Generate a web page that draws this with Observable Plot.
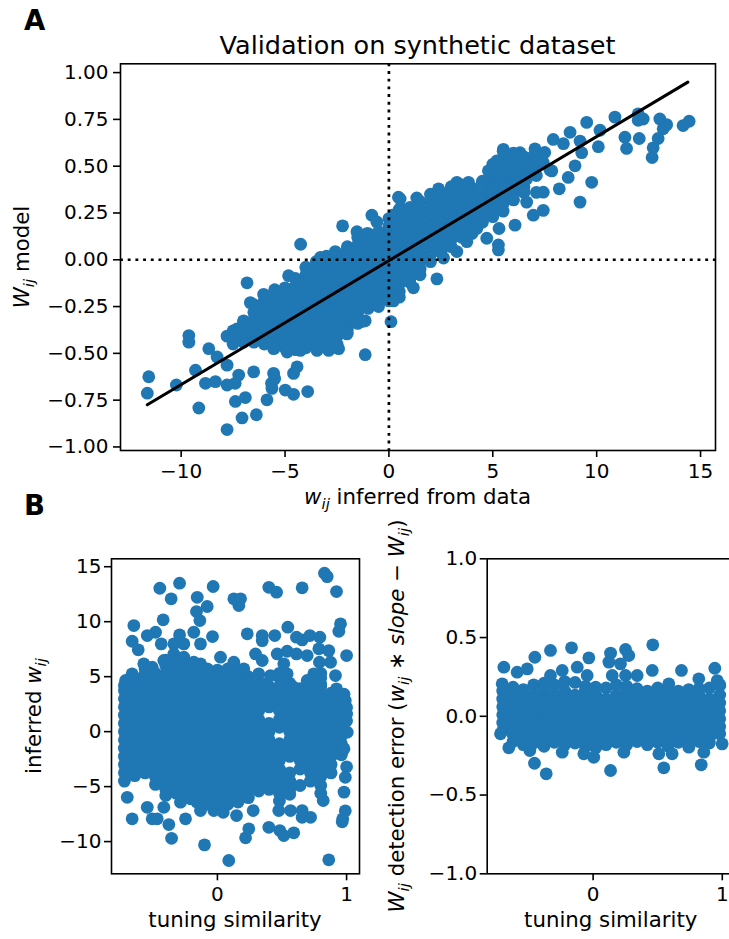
<!DOCTYPE html>
<html><head><meta charset="utf-8">
<script src="https://cdn.jsdelivr.net/npm/d3@7"></script>
<script src="https://cdn.jsdelivr.net/npm/@observablehq/plot@0.6"></script>
<style>
html,body{margin:0;padding:0;background:#fff;overflow:hidden}
#page{position:relative;width:729px;height:939px;overflow:hidden;background:#fff}
</style></head><body><div id="page"></div>
<script>
// ---------- Panel A: w_ij inferred (x) vs W_ij model (y) ----------
const aCore = [
 [-7.5,[-0.38,-0.42,-0.45]],
 [-7,[-0.33,-0.37,-0.41,-0.44]],
 [-6.5,[-0.24,-0.28,-0.32,-0.36,-0.40,-0.44]],
 [-6,[-0.22,-0.26,-0.30,-0.34,-0.38,-0.42,-0.45]],
 [-5.5,[-0.16,-0.20,-0.24,-0.28,-0.32,-0.36,-0.40,-0.44,-0.47]],
 [-5,[-0.15,-0.19,-0.23,-0.27,-0.31,-0.35,-0.39,-0.43,-0.47]],
 [-4.5,[-0.10,-0.14,-0.18,-0.22,-0.26,-0.30,-0.34,-0.38,-0.42,-0.46,-0.48]],
 [-4,[-0.04,-0.08,-0.12,-0.16,-0.20,-0.24,-0.28,-0.32,-0.36,-0.40,-0.44,-0.47]],
 [-3.5,[-0.01,-0.05,-0.09,-0.13,-0.17,-0.21,-0.25,-0.29,-0.33,-0.37,-0.41,-0.45]],
 [-3,[0.02,-0.02,-0.06,-0.10,-0.14,-0.18,-0.22,-0.26,-0.30,-0.34,-0.38,-0.42,-0.45]],
 [-2.5,[0.03,-0.01,-0.05,-0.09,-0.13,-0.17,-0.21,-0.25,-0.29,-0.33,-0.37,-0.41,-0.45]],
 [-2,[0.07,0.03,-0.01,-0.05,-0.09,-0.13,-0.17,-0.21,-0.25,-0.29,-0.33,-0.37,-0.39]],
 [-1.5,[0.12,0.08,0.04,0.00,-0.04,-0.08,-0.12,-0.16,-0.20,-0.24,-0.28,-0.32,-0.34]],
 [-1,[0.14,0.10,0.06,0.02,-0.02,-0.06,-0.10,-0.14,-0.18,-0.22,-0.26]],
 [-0.5,[0.15,0.11,0.07,0.03,-0.01,-0.05,-0.09,-0.13,-0.17,-0.21,-0.25]],
 [0,[0.22,0.18,0.14,0.10,0.06,0.02,-0.02,-0.06,-0.10,-0.14,-0.18,-0.22]],
 [0.5,[0.27,0.23,0.19,0.15,0.11,0.07,0.03,-0.01,-0.05,-0.09,-0.13,-0.17,-0.20]],
 [1,[0.26,0.22,0.18,0.14,0.10,0.06,0.02,-0.02,-0.06,-0.10,-0.12]],
 [1.5,[0.31,0.27,0.23,0.19,0.15,0.11,0.07,0.03,-0.01,-0.05,-0.08]],
 [2,[0.35,0.31,0.27,0.23,0.19,0.15,0.11,0.07,0.03,-0.01]],
 [2.5,[0.36,0.32,0.28,0.24,0.20,0.16,0.12,0.08,0.04]],
 [3,[0.39,0.35,0.31,0.27,0.23,0.19,0.15,0.11,0.07]],
 [3.5,[0.40,0.36,0.32,0.28,0.24,0.20,0.16,0.12]],
 [4,[0.38,0.34,0.30,0.26,0.22,0.18,0.14]],
 [4.5,[0.42,0.38,0.34,0.30,0.26,0.22,0.20]],
 [5,[0.51,0.47,0.43,0.39,0.35,0.31,0.27,0.23]],
 [5.5,[0.58,0.54,0.50,0.46,0.42,0.38,0.34,0.30,0.26]],
 [6,[0.56,0.52,0.48,0.44,0.40,0.36,0.32]],
 [6.5,[0.55,0.51,0.47,0.43,0.39,0.36]],
 [7,[0.56,0.52,0.48]]
];
const aExtra = [
 [-4.25,0.083],[-2.23,0.181],[-0.82,0.238],[-0.58,0.202],[0.46,0.334],[1.42,0.317],[-1.54,0.15],[-3.3,0.012],[-2.9,0.01],[-2.0,0.06],[-1.06,0.14],[0.22,0.24],[0.63,0.27],[1.02,0.28],[-2.58,0.044],
 [10.88,0.762],[12.0,0.78],[12.24,0.752],[12.0,0.745],[13.04,0.752],[13.37,0.722],[13.2,0.70],[14.16,0.717],[14.45,0.74],[9.52,0.734],[10.16,0.692],[11.36,0.655],[12.05,0.648],[11.44,0.595],[12.96,0.648],[12.72,0.598],[12.67,0.546],
 [8.72,0.681],[9.2,0.634],[10.08,0.604],[7.91,0.643],[8.4,0.62],[7.03,0.593],[7.5,0.573],[9.28,0.572],[9.76,0.414],[9.2,0.308],[8.2,0.379],[8.63,0.44],[8.96,0.502],[7.84,0.475],
 [5.51,0.59],[5.19,0.528],[6.31,0.572],[4.87,0.475],[3.27,0.414],[3.83,0.414],[2.39,0.379],[7.43,0.361],[7.43,0.264],[6.95,0.238],[6.07,0.185],[5.27,0.079],[4.71,0.115],[4.23,0.167],[5.3,0.167],[6.63,0.308],[7.1,0.36],
 [5.99,0.569],[5.83,0.50],[6.47,0.52],[6.95,0.50],[7.43,0.52],[5.35,0.449],[6.15,0.414],[6.63,0.432],[7.1,0.45],[7.75,0.48],
 [3.75,0.097],[3.27,0.044],[2.63,0.009],[0.54,0.325],[1.34,0.33],[4.39,0.387],[4.79,0.475],
 [-6.83,-0.123],[-4.83,-0.085],[-6.67,-0.229],[-6.03,-0.185],[-9.63,-0.405],[-9.63,-0.44],[-8.67,-0.475],[-7.79,-0.408],[-6.99,-0.326],[-8.27,-0.519],[-9.31,-0.59],[-7.79,-0.563],
 [-11.56,-0.625],[-11.63,-0.713],[-10.23,-0.669],[-8.83,-0.66],[-8.35,-0.651],[-9.15,-0.792],[-7.79,-0.669],[-7.23,-0.616],[-7.4,-0.66],[-7.39,-0.757],[-6.91,-0.736],[-7.07,-0.845],[-7.79,-0.907],[-6.38,-0.828],
 [-5.87,-0.748],[-5.63,-0.687],[-5.65,-0.66],[-4.99,-0.696],[-4.59,-0.719],[-3.91,-0.704],[-6.51,-0.599],[-5.55,-0.607],[-5.5,-0.635],[-4.59,-0.607],[-4.42,-0.572],
 [-1.14,-0.326],[-1.14,-0.507],[0.1,-0.331],[0.22,-0.22],[1.18,-0.15],[-6.19,-0.405],[-5.55,-0.475],[-4.9,-0.493],[-4.26,-0.484],[-3.46,-0.484],[-2.9,-0.484],[-2.42,-0.475],[-2.02,-0.396],[-1.3,-0.33],
 [-7.31,-0.37],[-6.59,-0.352],[-5.87,-0.44],[2.31,-0.102],[5.27,0.053]
];
const fitLineX = [-11.63, 14.39];
const fitLineY = [-0.775, 0.949];

// ---------- Panel B left: tuning similarity (x) vs inferred w_ij (y) ----------
const bLeftCore = [
 [-0.72,[4.2,3.75,3,2.25,1.5,0.75,0,-0.75,-1.5,-2.25,-3,-3.75,-4.5]],
 [-0.64,[4.9,4.1,3.4,2.6,1.9,1.1,0.4,-0.4,-1.1,-1.9,-2.6,-3.4,-4.0]],
 [-0.56,[5.7,5.25,4.5,3.75,3,2.25,1.5,0.75,0,-0.75,-1.5,-2.25,-3,-3.75]],
 [-0.48,[5.3,4.9,4.1,3.4,2.6,1.9,1.1,0.4,-0.4,-1.1,-1.9,-2.6,-3.4,-4.1,-4.8]],
 [-0.40,[6.5,6,5.25,4.5,3.75,3,2.25,1.5,0.75,0,-0.75,-1.5,-2.25,-3,-3.75,-4.5,-5.25,-5.8]],
 [-0.32,[6.4,5.6,4.9,4.1,3.4,2.6,1.9,1.1,0.4,-0.4,-1.1,-1.9,-2.6,-3.4,-4.1,-4.9,-5.6]],
 [-0.24,[6,5.25,4.5,3.75,3,2.25,1.5,0.75,0,-0.75,-1.5,-2.25,-3,-3.75,-4.5,-5.25,-5.8]],
 [-0.16,[6.0,5.6,4.9,4.1,3.4,2.6,1.9,1.1,0.4,-0.4,-1.1,-1.9,-2.6,-3.4,-4.1,-4.9,-5.6,-6.4]],
 [-0.08,[5.3,4.5,3.75,3,2.25,1.5,0.75,0,-0.75,-1.5,-2.25,-3,-3.75,-4.5,-5.25,-6]],
 [0,[5.6,4.9,4.1,3.4,2.6,1.9,1.1,0.4,-0.4,-1.1,-1.9,-2.6,-3.4,-4.1,-4.9,-5.6,-6.4]],
 [0.08,[5.7,5.25,4.5,3.75,3,2.25,1.5,0.75,0,-0.75,-1.5,-2.25,-3,-3.75,-4.5,-5.25,-6,-6.6]],
 [0.16,[5.4,4.9,4.1,3.4,2.6,1.9,1.1,0.4,-0.4,-1.1,-1.9,-2.6,-3.4,-4.1,-4.9,-5.6,-6.4]],
 [0.24,[5,4.5,3.75,3,2.25,1.5,0.75,0,-0.75,-1.5,-2.25,-3,-3.75,-4.5,-5.25,-6]],
 [0.32,[4.4,4.1,3.4,2.6,1.9,1.1,0.4,-0.4,-1.1,-1.9,-2.6,-3.4,-4.1,-4.9,-5.4]],
 [0.40,[4.1,3.75,3,2.25,0.75,0,-0.75,-1.5,-2.25,-3,-3.75,-4.5,-5.25]],
 [0.48,[5.3,4.9,4.1,3.4,2.6,1.9,1.1,0.4,-1.1,-1.9,-2.6,-3.4,-4.1,-4.9,-5.6,-6.3]],
 [0.56,[4.4,3.75,3,2.25,1.5,0.75,0,-0.75,-1.5,-2.25,-3.75,-4.5,-5.25,-5.7]],
 [0.64,[3.9,3.4,2.6,1.9,1.1,0.4,-0.4,-1.1,-1.9,-2.6,-3.4,-4.9]],
 [0.72,[4.4,3.75,3,2.25,1.5,0.75,0,-0.75,-1.5,-2.25,-3,-3.75,-4.5]],
 [0.80,[5.3,4.9,4.1,3.4,2.6,1.9,1.1,0.4,-0.4,-1.1,-1.9,-2.6,-3.4,-4.1,-4.9,-5.6]],
 [0.88,[3.5,3,2.25,1.5,0.75,0,-0.75,-1.5,-2.25,-3,-3.75]],
 [0.96,[2.9,2.6,1.9,1.1,0.4,-0.4,-1.1,-1.9,-2.1]]
];
const bLeftExtra = [
 [-0.446,13.04],[-0.293,13.5],[-0.358,12.08],[-0.647,9.65],[-0.42,10.17],[-0.66,8.22],[-0.613,7.44],[-0.543,8.74],[-0.479,9.04],[-0.435,7.98],[-0.337,7.98],[-0.293,8.8],[-0.26,7.98],
 [-0.156,12.22],[-0.162,10.92],[-0.136,10.1],[-0.079,11.38],[-0.033,13.2],[-0.183,9.04],[-0.131,7.98],[-0.038,8.65],[0.127,12.08],[0.179,12.08],[0.166,11.47],[0.231,8.9],
 [0.398,13.13],[0.458,12.68],[0.656,13.08],[0.829,14.41],[0.85,14.1],[0.922,12.74],[0.953,9.8],[0.94,9.13],[1.0,6.92],[0.545,9.5],[0.347,8.74],[0.347,8.28],[0.444,8.74],[0.612,8.59],[0.656,8.34],[0.716,8.74],[0.793,8.59],
 [0.295,7.07],[0.347,6.47],[0.463,7.07],[0.54,7.31],[0.612,7.07],[0.695,6.92],[0.785,7.53],[0.862,7.37],[0.876,6.31],[0.79,6.31],[0.746,5.26],[0.914,5.1],[0.922,3.89],
 [0.024,6.77],[0.127,6.31],[0.204,5.71],[0.32,5.26],[0.411,5.1],[0.514,6.17],[0.54,5.26],[-0.337,7.07],[-0.415,6.47],[-0.57,6.17],[-0.66,5.26],[-0.711,4.65],
 [0.36,4.35],[0.59,4.04],[0.695,4.65],[0.8,4.35],[-0.26,6.77],[-0.183,6.31],[-0.131,6.17],[-0.079,5.71],[-0.505,5.86],
 [1.005,-0.05],[0.98,-1.56],[1.0,-3.2],[0.99,-4.15],[0.98,-5.5],[0.99,-7.2],[0.966,-8.2],[1.0,1.6],[0.99,2.83],[0.98,3.4],[1.0,2.2],[1.0,0.99],
 [-0.66,-7.93],[-0.698,-5.97],[-0.543,-6.88],[-0.505,-7.93],[-0.466,-7.93],[-0.415,-6.88],[-0.376,-8.45],[-0.355,-9.7],[-0.286,-6.42],[-0.247,-7.93],[-0.131,-7.18],[-0.1,-10.3],
 [0.045,-7.33],[0.088,-11.72],[0.148,-7.63],[0.218,-9.66],[0.243,-8.84],[0.277,-7.18],[0.398,-8.7],[0.475,-7.18],[0.483,-9.0],[0.514,-9.45],[0.566,-7.18],[0.591,-9.2],
 [0.656,-7.18],[0.656,-7.79],[0.721,-7.79],[0.819,-6.27],[0.862,-11.66],[0.97,-7.93],[-0.208,-6.11],[-0.028,-7.18],[-0.079,-6.57]
];

// ---------- Panel B right: tuning similarity (x) vs detection error (y) ----------
const bRightCore = [
 [-0.70,[0.16,0.11,0.06,0.01,-0.04,-0.09]],
 [-0.62,[0.185,0.135,0.085,0.035,-0.015,-0.065,-0.115,-0.16]],
 [-0.54,[0.17,0.11,0.06,0.01,-0.04,-0.09,-0.14,-0.18]],
 [-0.46,[0.2,0.135,0.085,0.035,-0.015,-0.065,-0.115,-0.17]],
 [-0.38,[0.21,0.16,0.11,0.06,0.01,-0.04,-0.09,-0.14,-0.19]],
 [-0.30,[0.2,0.135,0.085,0.035,-0.015,-0.065,-0.115,-0.165]],
 [-0.22,[0.22,0.16,0.11,0.06,0.01,-0.04,-0.09,-0.14,-0.18]],
 [-0.14,[0.215,0.135,0.085,0.035,-0.015,-0.065,-0.115,-0.17]],
 [-0.06,[0.19,0.16,0.11,0.06,0.01,-0.04,-0.09,-0.14,-0.19]],
 [0.02,[0.185,0.135,0.085,0.035,-0.015,-0.065,-0.115,-0.165,-0.2]],
 [0.10,[0.18,0.11,0.06,0.01,-0.04,-0.09,-0.14,-0.18]],
 [0.18,[0.2,0.135,0.085,0.035,-0.015,-0.065,-0.115,-0.165]],
 [0.26,[0.19,0.16,0.11,0.06,0.01,-0.04,-0.09,-0.14,-0.18]],
 [0.34,[0.175,0.135,0.085,0.035,-0.015,-0.065,-0.115,-0.16]],
 [0.42,[0.16,0.11,0.06,0.01,-0.04,-0.09,-0.14,-0.18]],
 [0.50,[0.18,0.135,0.085,0.035,-0.015,-0.065,-0.115,-0.165]],
 [0.58,[0.17,0.11,0.06,0.01,-0.04,-0.09,-0.14,-0.19]],
 [0.66,[0.16,0.135,0.085,0.035,-0.015,-0.065,-0.115,-0.165]],
 [0.74,[0.17,0.11,0.06,0.01,-0.04,-0.09,-0.14,-0.17]],
 [0.82,[0.175,0.135,0.085,0.035,-0.015,-0.065,-0.115,-0.16]],
 [0.90,[0.18,0.11,0.06,0.01,-0.04,-0.09,-0.14,-0.17]],
 [0.98,[0.2,0.135,0.085,0.035,-0.015,-0.065,-0.11]]
];
const bRightExtra = [
 [-0.691,0.312],[-0.588,0.28],[-0.51,0.301],[-0.451,0.375],[-0.33,0.418],[-0.167,0.435],[-0.123,0.312],[-0.033,0.371],[0.135,0.401],[0.122,0.344],[0.212,0.333],[0.251,0.424],[0.276,0.386],
 [0.148,0.259],[0.251,0.259],[0.341,0.259],[0.462,0.454],[0.458,0.291],[0.684,0.291],[0.942,0.305],[0.961,0.227],[0.981,0.196],[-0.33,0.259],[-0.239,0.291],[-0.046,0.259],[0.586,0.206],[0.818,0.238],[-0.704,0.206],
 [-0.653,-0.2],[-0.49,-0.217],[-0.454,-0.298],[-0.363,-0.365],[0.135,-0.344],[0.547,-0.327],[0.837,-0.308],[0.612,-0.238],[0.509,-0.238],[0.741,-0.196],[0.857,-0.228],[0.999,-0.175],
 [-0.072,-0.238],[0.005,-0.26],[0.238,-0.228],[-0.239,-0.228],[-0.717,-0.111]
];

// tick values
const aXTicks = [-10, -5, 0, 5, 10, 15];
const aYTicks = [-1, -0.75, -0.5, -0.25, 0, 0.25, 0.5, 0.75, 1];
const bLeftXTicks = [0, 1];
const bLeftYTicks = [-10, -5, 0, 5, 10, 15];
const bRightXTicks = [0, 1];
const bRightYTicks = [-1, -0.5, 0, 0.5, 1];

// ---------- build ----------
const flat = (core, extra, kx, ky) =>
  core.flatMap(([a, bs]) => bs.map(b => ({[kx]: a, [ky]: b})))
      .concat(extra.map(([a, b]) => ({[kx]: a, [ky]: b})));
const aPoints = flat(aCore, aExtra, "x", "y");
const bLeftPoints = flat(bLeftCore, bLeftExtra, "t", "w");
const bRightPoints = flat(bRightCore, bRightExtra, "t", "e");
const fitLine = fitLineX.map((x, i) => ({x, y: fitLineY[i]}));

const BLUE = "#1f77b4";
const R = 6.4;
const TICK_FS = 20;
const LABEL_FS = 21.3;
const style = {fontFamily: "DejaVu Sans", fontSize: TICK_FS + "px", color: "#000", background: "transparent", overflow: "visible"};
const page = document.getElementById("page");
function place(svg, left, top) {
  svg.style.position = "absolute";
  svg.style.left = left + "px";
  svg.style.top = top + "px";
  page.appendChild(svg);
}
const dotted = {stroke: "#000", strokeWidth: 2.7, strokeDasharray: "2.9,4.8"};
const axisCommon = {tickSize: 7, strokeWidth: 1.6, label: null, fontSize: TICK_FS};

const plotA = Plot.plot({
  width: 729, height: 500,
  marginLeft: 120, marginRight: 14, marginTop: 63.3, marginBottom: 50,
  style,
  x: {domain: [-12.92, 15.72], label: null},
  y: {domain: [-1.019, 1.047], label: null},
  marks: [
    Plot.dot(aPoints, {x: "x", y: "y", r: R, fill: BLUE}),
    Plot.ruleX([0], dotted),
    Plot.ruleY([0], dotted),
    Plot.line(fitLine, {x: "x", y: "y", stroke: "#000", strokeWidth: 3}),
    Plot.frame({stroke: "#000", strokeWidth: 1.6}),
    Plot.axisX({...axisCommon, ticks: aXTicks, tickFormat: d3.format("d"), tickPadding: 6}),
    Plot.axisY({...axisCommon, ticks: aYTicks, tickFormat: d3.format(".2f"), tickPadding: 5})
  ]
});
place(plotA, 0, 0);

const plotBL = Plot.plot({
  width: 370, height: 439,
  marginLeft: 111, marginRight: 11, marginTop: 58.3, marginBottom: 65.7,
  style,
  x: {domain: [-0.82, 1.10], label: null},
  y: {domain: [-12.93, 15.72], label: null},
  marks: [
    Plot.dot(bLeftPoints, {x: "t", y: "w", r: R, fill: BLUE}),
    Plot.frame({stroke: "#000", strokeWidth: 1.6}),
    Plot.axisX({...axisCommon, ticks: bLeftXTicks, tickFormat: d3.format("d"), tickPadding: 6}),
    Plot.axisY({...axisCommon, ticks: bLeftYTicks, tickFormat: d3.format("d"), tickPadding: 3})
  ]
});
place(plotBL, 0, 500);

const plotBR = Plot.plot({
  width: 380, height: 439,
  marginLeft: 116.7, marginRight: 15.3, marginTop: 58.3, marginBottom: 65.7,
  style,
  x: {domain: [-0.82, 1.10], label: null},
  y: {domain: [-1, 1], label: null},
  marks: [
    Plot.dot(bRightPoints, {x: "t", y: "e", r: R, fill: BLUE}),
    Plot.frame({stroke: "#000", strokeWidth: 1.6}),
    Plot.axisX({...axisCommon, ticks: bRightXTicks, tickFormat: d3.format("d"), tickPadding: 6}),
    Plot.axisY({...axisCommon, ticks: bRightYTicks, tickFormat: d3.format(".1f"), tickPadding: 3})
  ]
});
place(plotBR, 370, 500);

// ---------- text overlay ----------
const ov = d3.select(page).append("svg")
  .attr("width", 729).attr("height", 939)
  .style("position", "absolute").style("left", "0px").style("top", "0px")
  .attr("font-family", "DejaVu Sans");

function label(x, y, rot, parts, size, anchor = "middle", weight = "normal") {
  const t = ov.append("text")
    .attr("transform", `translate(${x},${y}) rotate(${rot})`)
    .attr("text-anchor", anchor).attr("font-size", size).attr("font-weight", weight)
    .attr("fill", "#000").style("white-space", "pre");
  let shift = 0;
  for (const p of parts) {
    const ts = t.append("tspan").text(p.t);
    if (p.i) ts.attr("font-style", "italic");
    const target = p.sub ? size * 0.24 : 0;
    if (target !== shift) { ts.attr("dy", target - shift); shift = target; }
    if (p.sub) ts.attr("font-size", size * 0.7);
  }
}
const T = s => ({t: s});
const I = s => ({t: s, i: true});
const S = s => ({t: s, i: true, sub: true});

label(24, 30, 0, [T("A")], 27.5, "start", "bold");
label(24, 515, 0, [T("B")], 27.5, "start", "bold");
label(417.5, 54, 0, [T("Validation on synthetic dataset")], 25.5);
label(417.5, 504, 0, [I("w"), S("ij"), T(" inferred from data")], LABEL_FS);
label(28.5, 257, -90, [I("W"), S("ij"), T(" model")], LABEL_FS);
label(235, 927, 0, [T("tuning similarity")], LABEL_FS);
label(41, 716, -90, [T("inferred "), I("w"), S("ij")], LABEL_FS);
label(610.7, 927, 0, [T("tuning similarity")], LABEL_FS);
label(404, 716, -90, [I("W"), S("ij"), T(" detection error ("), I("w"), S("ij"), T(" \u2217 "), I("slope"), T(" \u2212 "), I("W"), S("ij"), T(")")], LABEL_FS);
</script></body></html>
